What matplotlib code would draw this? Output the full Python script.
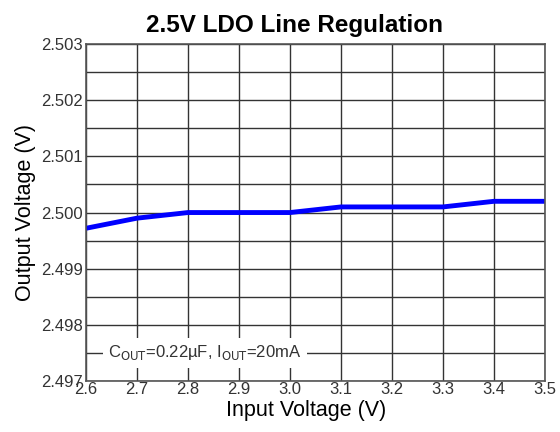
import matplotlib
matplotlib.use('Agg')
import matplotlib.pyplot as plt
import numpy as np

plt.rcParams['font.family'] = ['Liberation Sans', 'DejaVu Sans']

# datos
vin = [2.6, 2.7, 2.8, 2.9, 3.0, 3.1, 3.2, 3.3, 3.4, 3.5]
vout = [2.49972, 2.49990, 2.50000, 2.50000, 2.50000, 2.50010, 2.50010, 2.50010, 2.50020, 2.50020]

xticks = [2.6, 2.7, 2.8, 2.9, 3.0, 3.1, 3.2, 3.3, 3.4, 3.5]
yticks = [2.497, 2.498, 2.499, 2.500, 2.501, 2.502, 2.503]
ygrid = np.arange(2.497, 2.5031, 0.0005)

fig = plt.figure(figsize=(5.6, 4.32), dpi=100)
ax = fig.add_axes([0.1536, 0.118, 0.8194, 0.780])

ax.set_xlim(2.6, 3.5)
ax.set_ylim(2.497, 2.503)
ax.set_xticks(xticks)
ax.set_xticklabels(['%.1f' % v for v in xticks])
ax.set_yticks(yticks)
ax.set_yticklabels(['%.3f' % v for v in yticks])
ax.set_yticks(ygrid, minor=True)
ax.tick_params(which='both', length=0, labelsize=12, labelcolor='#333333', pad=2)
ax.tick_params(axis='x', pad=1)
ax.grid(True, which='both', color='#333333', linewidth=1.0)
for s in ax.spines.values():
    s.set_color('#555555')
    s.set_linewidth(1.2)

ax.plot(vin, vout, color='#0000ff', linewidth=3.5, solid_capstyle='butt')

ax.text(2.833, 2.4975, r'C$_{\mathrm{OUT}}$=0.22µF, I$_{\mathrm{OUT}}$=20mA',
        fontsize=12, color='#333333', ha='center', va='center',
        bbox=dict(facecolor='white', edgecolor='none', pad=4))

ax.set_title('2.5V LDO Line Regulation', fontsize=17.5, fontweight='bold', pad=9, x=0.455)
ax.set_xlabel('Input Voltage (V)', fontsize=15.5, labelpad=2, x=0.48)
ax.set_ylabel('Output Voltage (V)', fontsize=15.5, labelpad=4)

fig.savefig('out.png', dpi=100)
